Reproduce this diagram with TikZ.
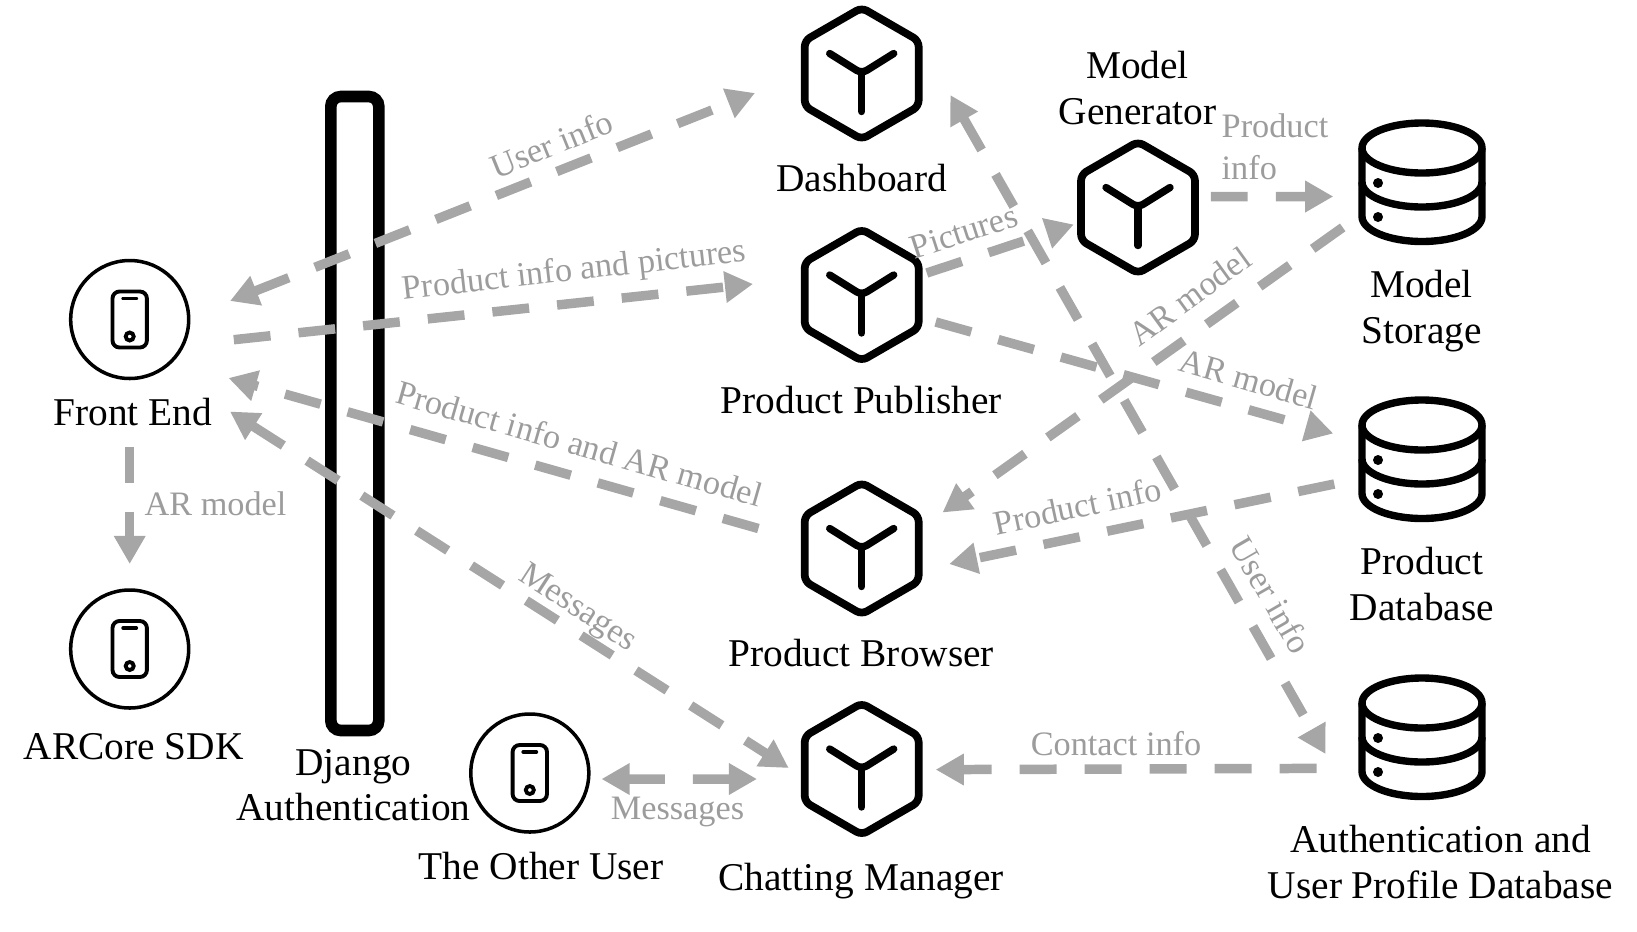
\documentclass[tikz,border=0pt]{standalone}
\usepackage{fontspec}
\setmainfont{Liberation Serif}
\usetikzlibrary{positioning, calc, arrows.meta, shapes.geometric}
\definecolor{flowgray}{HTML}{A6A6A6}
\definecolor{taggray}{HTML}{9C9C9C}
\tikzset{
    phone/.style = {circle,draw,line width=1pt,minimum size=1.18cm,inner sep=0,outer sep=0,
        path picture={
            \begin{scope}[shift={(path picture bounding box.center)},line width=1.1pt]
                \draw[rounded corners=0.7mm] (-0.172,-0.28) rectangle (0.172,0.28);
                \draw[line cap=round] (-0.065,0.21) -- (0.065,0.21);
                \draw (0,-0.17) circle (0.04);
            \end{scope}}},
    hexbox/.style = {regular polygon,regular polygon sides=6,regular polygon rotate=30,draw,line width=2.2pt,
        rounded corners=0.6mm,minimum size=1.315cm,inner sep=0,outer sep=0,
        path picture={
            \begin{scope}[shift={(path picture bounding box.center)},line width=2.1pt,line cap=round]
                \draw (-0.32,0.2) -- (0,0) -- (0.32,0.2);
                \draw (0,0) -- (0,-0.38);
            \end{scope}}},
    dbbox/.style = {rectangle,minimum width=1.5cm,minimum height=1.5cm,inner sep=0,outer sep=0,
        path picture={
            \begin{scope}[shift={(path picture bounding box.center)},line width=2.1pt]
                \draw (0,0.35) circle [x radius=0.6,y radius=0.25];
                \draw (-0.6,0.35) -- (-0.6,-0.335) arc [start angle=180,end angle=360,x radius=0.6,y radius=0.25] -- (0.6,0.35);
                \draw (-0.6,0.01) arc [start angle=180,end angle=360,x radius=0.6,y radius=0.25];
                \fill (-0.44,0.0) circle (0.05);
                \fill (-0.44,-0.34) circle (0.05);
            \end{scope}}},
    barbox/.style = {rectangle,draw,line width=3.3pt,rounded corners=1mm,minimum width=0.48cm,minimum height=6.34cm,inner sep=0,outer sep=0},
    iconname/.style = {align=center,font=\fontsize{11.2}{13}\selectfont,inner sep=0},
    flowtag/.style = {align=center,text=taggray,font=\fontsize{9.75}{11.9}\selectfont,inner sep=0},
    flow/.style = {draw=flowgray,line width=2.7pt,dash pattern=on 10.5pt off 8pt,
        >={Triangle[length=8pt,width=8.5pt]}}
}
\begin{document}
\begin{tikzpicture}
    \useasboundingbox (0,0) rectangle (16.37,9.31);

    \node [phone]  (front)  at ( 1.297, 6.115) {};
    \node [phone]  (arcore) at ( 1.297, 2.820) {};
    \node [phone]  (other)  at ( 5.298, 1.580) {};
    \node [barbox] (django) at ( 3.548, 5.175) {};
    \node [hexbox] (dash)   at ( 8.617, 8.575) {};
    \node [hexbox] (pub)    at ( 8.617, 6.360) {};
    \node [hexbox] (brow)   at ( 8.617, 3.825) {};
    \node [hexbox] (chat)   at ( 8.617, 1.620) {};
    \node [hexbox] (gen)    at (11.380, 7.235) {};
    \node [dbbox]  (store)  at (14.220, 7.480) {};
    \node [dbbox]  (pdb)    at (14.220, 4.710) {};
    \node [dbbox]  (adb)    at (14.220, 1.930) {};

    \node [iconname] (frontname)  at ( 1.326, 5.190) {Front End};
    \node [iconname] (arcorename) at ( 1.336, 1.845) {ARCore SDK};
    \node [iconname] (othername)  at ( 5.410, 0.645) {The Other User};
    \node [iconname] (djangoname) at ( 3.535, 1.460) {Django\\Authentication};
    \node [iconname] (dashname)   at ( 8.617, 7.525) {Dashboard};
    \node [iconname] (pubname)    at ( 8.612, 5.310) {Product Publisher};
    \node [iconname] (browname)   at ( 8.612, 2.775) {Product Browser};
    \node [iconname] (chatname)   at ( 8.612, 0.500) {Chatting Manager};
    \node [iconname] (genname)    at (11.375, 8.430) {Model\\Generator};
    \node [iconname] (storename)  at (14.215, 6.200) {Model\\Storage};
    \node [iconname] (pdbname)    at (14.220, 3.470) {Product\\Database};
    \node [iconname] (adbname)    at (14.405, 0.690) {Authentication and\\User Profile Database};

    \draw [flow,<->] ($(front)+(1.003,0.185)$)  -- ($(dash)+(-1.067,-0.195)$);
    \draw [flow,->]  ($(front)+(1.041,-0.202)$) -- ($(pub)+(-1.087,0.110)$);
    \draw [flow,->]  ($(brow)+(-1.033,0.200)$)  -- ($(front)+(0.988,-0.585)$);
    \draw [flow,<->] ($(front)+(1.003,-0.920)$) -- ($(chat)+(-0.730,0.010)$);
    \draw [flow,->]  ($(front)+(0,-1.270)$)     -- ($(arcore)+(0,0.850)$);
    \draw [flow,<->] ($(other)+(0.717,-0.060)$) -- ($(chat)+(-1.047,-0.100)$);
    \draw [flow,->]  ($(pub)+(0.651,0.220)$)    -- ($(gen)+(-0.642,-0.170)$);
    \draw [flow,->]  ($(gen)+(0.728,0.110)$)    -- ($(store)+(-0.887,-0.135)$);
    \draw [flow,->]  ($(store)+(-0.793,-0.444)$) -- ($(brow)+(0.808,0.360)$);
    \draw [flow,->]  ($(pub)+(0.740,-0.270)$)   -- ($(pdb)+(-0.887,0.265)$);
    \draw [flow,->]  ($(pdb)+(-0.877,-0.240)$)  -- ($(brow)+(0.875,-0.155)$);
    \draw [flow,<->] ($(dash)+(0.886,-0.215)$)  -- ($(adb)+(-0.965,-0.160)$);
    \draw [flow,->]  ($(adb)+(-1.054,-0.304)$)  -- ($(chat)+(0.740,-0.006)$);

    \node [flowtag,rotate=22]    (userleft)  at ( 5.515, 7.870) {User info};
    \node [flowtag,rotate=6.5]   (pubinfo)   at ( 5.745, 6.590) {Product info and pictures};
    \node [flowtag,rotate=-16]   (browinfo)  at ( 5.795, 4.873) {Product info and AR model};
    \node [flowtag,rotate=-33]   (msgleft)   at ( 5.770, 3.220) {Messages};
    \node [flowtag]              (armodel)   at ( 2.155, 4.270) {AR model};
    \node [flowtag]              (msgother)  at ( 6.775, 1.190) {Messages};
    \node [flowtag,rotate=18]    (pics)      at ( 9.640, 6.993) {Pictures};
    \node [flowtag,align=left,anchor=west] (geninfo) at (12.210, 7.840) {Product\\info};
    \node [flowtag,rotate=36]    (arup)      at (11.895, 6.345) {AR model};
    \node [flowtag,rotate=-16]   (ardown)    at (12.490, 5.520) {AR model};
    \node [flowtag,rotate=12]    (pdbinfo)   at (10.774, 4.250) {Product info};
    \node [flowtag,rotate=-60]   (userright) at (12.710, 3.360) {User info};
    \node [flowtag]              (contact)   at (11.160, 1.877) {Contact info};
\end{tikzpicture}
\end{document}
